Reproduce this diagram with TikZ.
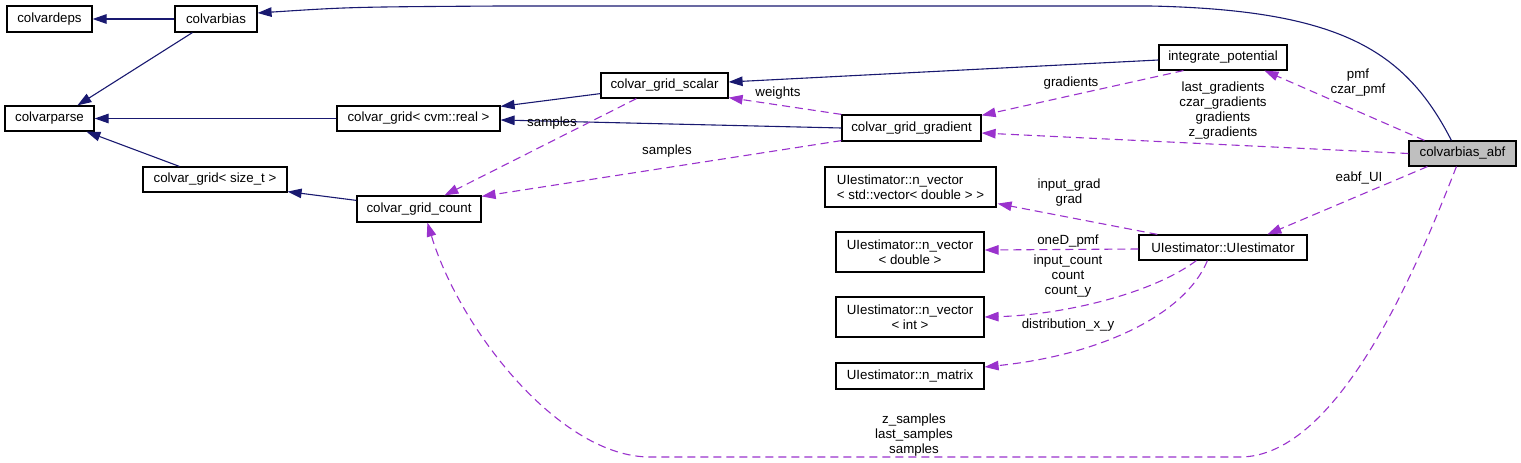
\documentclass[tikz,border=0pt]{standalone}
\usepackage{fontspec}
\setmainfont{Liberation Sans}
\usetikzlibrary{arrows.meta,calc}
\definecolor{navyc}{HTML}{191970}
\definecolor{orch}{HTML}{9A32CD}
\definecolor{abfgray}{HTML}{BFBFBF}
\tikzset{
 cls/.style={draw=black, line width=1.2pt, fill=white, inner sep=0pt, font=\fontsize{13.3}{15}\selectfont, align=center},
 inh/.style={draw=navyc, line width=1.1pt, -{Triangle[length=14pt,width=9.5pt]}},
 useedge/.style={draw=orch, line width=1.1pt, dash pattern=on 8pt off 5pt, -{Triangle[length=14pt,width=9.5pt]}},
 lbl/.style={font=\fontsize{13.3}{15}\selectfont, align=center, inner sep=0pt},
}
\begin{document}
\begin{tikzpicture}[x=1pt,y=-1pt]
\useasboundingbox (0,0) rectangle (1521,463);
% nodes
\node[cls, minimum width=85pt, minimum height=26pt] (deps) at (49.5,19) {colvardeps};
\node[cls, minimum width=82pt, minimum height=26pt] (bias) at (216,19) {colvarbias};
\node[cls, minimum width=89pt, minimum height=25pt] (parse) at (49.5,118.5) {colvarparse};
\node[cls, minimum width=163pt, minimum height=25pt] (gridreal) at (418.5,118.5) {colvar\_grid< cvm::real >};
\node[cls, minimum width=144pt, minimum height=25pt] (gridsize) at (215,179.5) {colvar\_grid< size\_t >};
\node[cls, minimum width=124pt, minimum height=26pt] (count) at (419,209) {colvar\_grid\_count};
\node[cls, minimum width=127pt, minimum height=25pt] (scalar) at (664.5,85.5) {colvar\_grid\_scalar};
\node[cls, minimum width=139pt, minimum height=26pt] (gradient) at (911.5,128) {colvar\_grid\_gradient};
\node[cls, minimum width=128pt, minimum height=25pt] (integ) at (1223,57.5) {integrate\_potential};
\node[cls, fill=abfgray, minimum width=107pt, minimum height=25pt] (abf) at (1462.5,153.5) {colvarbias\_abf};
\node[cls, minimum width=171pt, minimum height=40pt, align=left] (nvvec) at (910.5,187) {UIestimator::n\_vector\\< std::vector< double > >};
\node[cls, minimum width=148pt, minimum height=40pt] (nvdbl) at (910,252) {UIestimator::n\_vector\\< double >};
\node[cls, minimum width=168pt, minimum height=25pt] (uie) at (1223,247.5) {UIestimator::UIestimator};
\node[cls, minimum width=148pt, minimum height=40pt] (nvint) at (910,317) {UIestimator::n\_vector\\< int >};
\node[cls, minimum width=148pt, minimum height=26pt] (nmat) at (910,376) {UIestimator::n\_matrix};
% inheritance / solid edges
\draw[inh] (bias) -- (deps);
\draw[inh] ($(bias.south west)+(18,0)$) -- ($(parse.north west)+(73,0)$);
\draw[inh] (gridreal) -- (parse);
\draw[inh] ($(gridsize.north west)+(37,0)$) -- ($(parse.south west)+(82,0)$);
\draw[inh] ($(count.north west)+(0,5)$) -- ($(gridsize.south east)+(0,-1)$);
\draw[inh] ($(scalar.south west)+(0,-5)$) -- ($(gridreal.north east)+(0,1)$);
\draw[inh] (gradient.west) -- ($(gridreal.east)+(0,1.5)$);
\draw[inh] ($(integ.west)+(0,2.5)$) -- ($(scalar.east)+(0,-3.5)$);
\draw[inh] ($(abf.north west)+(43,0)$) .. controls (1405,50) and (1340,10) .. (1150,6) -- (500,6) .. controls (350,7) .. ($(bias.east)+(0,-6)$);
% usage / dashed edges
\draw[useedge] ($(scalar.south west)+(36,0)$) -- ($(count.north west)+(88,0)$);
\draw[useedge] ($(gradient.south west)+(0,-1)$) -- ($(count.north east)+(0,1)$);
\draw[useedge] (gradient.north west) -- ($(scalar.south east)+(0,-1)$);
\draw[useedge] ($(integ.south west)+(25,0)$) -- ($(gradient.north east)+(0,1)$);
\draw[useedge] ($(abf.north west)+(16,0)$) -- ($(integ.south west)+(106,0)$);
\draw[useedge] (abf.west) -- ($(gradient.east)+(0,5)$);
\draw[useedge] ($(abf.south west)+(19,0)$) -- ($(uie.north west)+(129,0)$);
\draw[useedge] ($(abf.south west)+(48,0)$) .. controls (1420,260) and (1340,457) .. (1240,457) -- (650,457) .. controls (560,457) and (460,330) .. ($(count.south west)+(71,0)$);
\draw[useedge] ($(uie.north west)+(19,0)$) -- ($(nvvec.south east)+(1,-4)$);
\draw[useedge] ($(uie.west)+(0,1.5)$) -- ($(nvdbl.east)+(0,-2)$);
\draw[useedge] ($(uie.south west)+(58,0)$) .. controls (1150,295) and (1060,315) .. (nvint.east);
\draw[useedge] ($(uie.south west)+(69,0)$) .. controls (1185,315) and (1100,355) .. ($(nmat.east)+(0,-9)$);
% labels
\node[lbl] (l1) at (552,123) {samples};
\node[lbl] (l2) at (667,151) {samples};
\node[lbl] (l3) at (778,93) {weights};
\node[lbl] (l4) at (1071,83) {gradients};
\node[lbl] (l5) at (1358,82.5) {pmf\\czar\_pmf};
\node[lbl] (l6) at (1223,110.5) {last\_gradients\\czar\_gradients\\gradients\\z\_gradients};
\node[lbl] (l7) at (1359,178) {eabf\_UI};
\node[lbl] (l8) at (1069,192.5) {input\_grad\\grad};
\node[lbl] (l9) at (1068,241) {oneD\_pmf};
\node[lbl] (l10) at (1068,275.7) {input\_count\\count\\count\_y};
\node[lbl] (l11) at (1068,325) {distribution\_x\_y};
\node[lbl] (l12) at (914,434.7) {z\_samples\\last\_samples\\samples};
\end{tikzpicture}
\end{document}
